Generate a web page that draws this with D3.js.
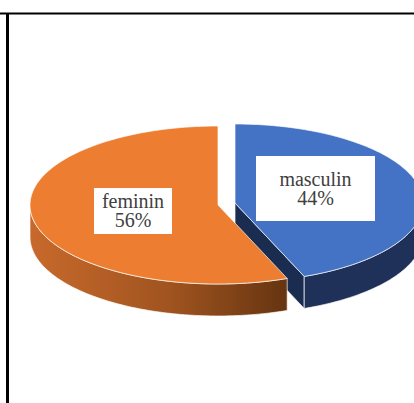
<!DOCTYPE html>
<html>
<head>
<meta charset="utf-8">
<script src="https://cdn.jsdelivr.net/npm/d3@7"></script>
<style>
  html, body { margin: 0; padding: 0; background: #fff; }
  svg { display: block; }
</style>
</head>
<body>
<div id="chart"></div>
<script>
// data
const categories = ["masculin", "feminin"];
const values = [44, 56];
const topColors = ["#4472C4", "#ED7D31"];
const sideColors = ["#1f3159", "url(#orangeSide)"];
const cutColors = ["#1b2c51", "#6b3813"];

const width = 414, height = 403;
const rx = 188, ry = 79, depth = 32;

// each slice's own centre (masculin is pulled out to the right)
const centres = [[235, 203], [218, 205]];
// label boxes, centre + size
const labelBoxes = [
  {cx: 315.5, cy: 188.5, w: 119, h: 65},
  {cx: 133, cy: 211, w: 78, h: 46}
];

const svg = d3.select("#chart").append("svg")
  .attr("width", width)
  .attr("height", height);

const defs = svg.append("defs");
const grad = defs.append("linearGradient")
  .attr("id", "orangeSide")
  .attr("gradientUnits", "userSpaceOnUse")
  .attr("x1", 30).attr("x2", 284).attr("y1", 0).attr("y2", 0);
grad.append("stop").attr("offset", 0).attr("stop-color", "#c8692c");
grad.append("stop").attr("offset", 0.55).attr("stop-color", "#a0541f");
grad.append("stop").attr("offset", 1).attr("stop-color", "#673511");

const pie = d3.pie().sort(null).value(d => d);
const arcs = pie(values);

const pt = (a, c, dz) => [c[0] + rx * Math.sin(a), c[1] - ry * Math.cos(a) + (dz || 0)];
const line = d3.line();
const sample = (a0, a1) => {
  const n = Math.max(2, Math.ceil(Math.abs(a1 - a0) / 0.02));
  return d3.range(n + 1).map(i => a0 + (a1 - a0) * i / n);
};

const g = svg.append("g");

arcs.forEach((d, i) => {
  const c = centres[i];
  const a0 = d.startAngle, a1 = d.endAngle;
  const slice = g.append("g").attr("class", "slice " + categories[i]);

  // cut faces facing the viewer
  const cuts = [];
  if (-Math.sin(a0) > 0.001) cuts.push(a0);
  if (Math.sin(a1) > 0.001) cuts.push(a1);
  cuts.forEach(a => {
    const p = pt(a, c);
    slice.append("path")
      .attr("d", line([c, p, [p[0], p[1] + depth], [c[0], c[1] + depth]]) + "Z")
      .attr("fill", cutColors[i])
      .attr("stroke", "#fff").attr("stroke-width", 0.8).attr("stroke-opacity", 0.85);
  });

  // outer wall (front half only)
  const lo = Math.max(a0, Math.PI / 2), hi = Math.min(a1, Math.PI * 1.5);
  if (hi > lo) {
    const angs = sample(lo, hi);
    const topPts = angs.map(a => pt(a, c));
    const botPts = angs.slice().reverse().map(a => pt(a, c, depth));
    slice.append("path")
      .attr("d", line(topPts.concat(botPts)) + "Z")
      .attr("fill", sideColors[i])
      .attr("stroke", "#fff").attr("stroke-width", 0.8).attr("stroke-opacity", 0.85);
  }

  // top face
  const rim = sample(a0, a1).map(a => pt(a, c));
  slice.append("path")
    .attr("d", line([c].concat(rim)) + "Z")
    .attr("fill", topColors[i])
    .attr("stroke", "#fff").attr("stroke-width", 0.8).attr("stroke-opacity", 0.85);
});

// data labels
const total = d3.sum(values);
arcs.forEach((d, i) => {
  const b = labelBoxes[i];
  const lab = svg.append("g").attr("class", "label");
  lab.append("rect")
    .attr("x", b.cx - b.w / 2).attr("y", b.cy - b.h / 2)
    .attr("width", b.w).attr("height", b.h)
    .attr("fill", "#fff");
  const lines = [categories[i], Math.round(d.value / total * 100) + "%"];
  lines.forEach((s, k) => {
    lab.append("text")
      .attr("x", b.cx).attr("y", b.cy - 3 + k * 19)
      .attr("text-anchor", "middle")
      .style("font-family", "'Liberation Serif', serif")
      .style("font-size", "20px")
      .attr("fill", "#404040")
      .text(s);
  });
});

// frame edges visible in the crop
svg.append("line")
  .attr("x1", 0).attr("x2", width).attr("y1", 13.5).attr("y2", 13.5)
  .attr("stroke", "#000").attr("stroke-width", 2);
svg.append("line")
  .attr("x1", 7.5).attr("x2", 7.5).attr("y1", 13).attr("y2", height)
  .attr("stroke", "#000").attr("stroke-width", 3);
</script>
</body>
</html>
